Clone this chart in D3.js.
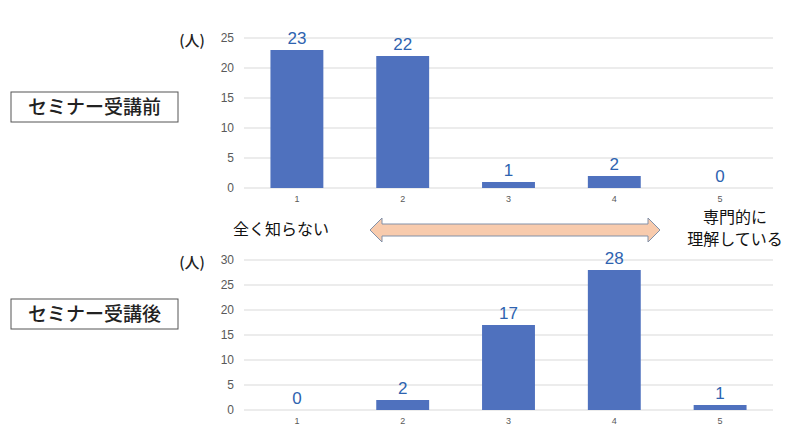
<!DOCTYPE html>
<html>
<head>
<meta charset="utf-8">
<script src="https://cdn.jsdelivr.net/npm/d3@7"></script>
<style>
  body { margin: 0; background: #fff; }
  svg { display: block; font-family: "Liberation Sans", Arial, "Noto Sans CJK JP", sans-serif; }
  .jp { font-family: "Noto Sans CJK JP", sans-serif; }
</style>
</head>
<body>
<div id="chart"></div>
<script>
// categories on the x axis (1 = know nothing ... 5 = expert)
const levels = [1, 2, 3, 4, 5];

// number of people, before and after the seminar
const beforeValues = [23, 22, 1, 2, 0];
const afterValues = [0, 2, 17, 28, 1];

// y tick labels for each panel
const beforeTicks = [0, 5, 10, 15, 20, 25];
const afterTicks = [0, 5, 10, 15, 20, 25, 30];

const panelTitles = ["セミナー受講前", "セミナー受講後"];

const width = 800, height = 439;

const svg = d3.select("#chart")
  .append("svg")
  .attr("width", width)
  .attr("height", height);

// shared x scale for both panels
const x = d3.scaleBand()
  .domain(levels)
  .range([244, 773])
  .paddingInner(0.5)
  .paddingOuter(0.25);

// draws one bar panel
function drawPanel(values, ticks, top, bottom, title, boxY) {
  const y = d3.scaleLinear()
    .domain([0, d3.max(ticks)])
    .range([bottom, top]);

  const g = svg.append("g");

  // gridlines
  g.append("g")
    .selectAll("line")
    .data(ticks)
    .join("line")
    .attr("x1", 244)
    .attr("x2", 773)
    .attr("y1", d => y(d))
    .attr("y2", d => y(d))
    .attr("stroke", "#d9d9d9")
    .attr("stroke-width", 1);

  // y axis labels
  const yAxis = g.append("g")
    .attr("transform", "translate(240,0)")
    .call(d3.axisLeft(y).tickValues(ticks).tickSize(0).tickPadding(6));
  yAxis.select(".domain").remove();
  yAxis.selectAll("text")
    .attr("font-size", 12)
    .attr("fill", "#595959")
    .attr("font-family", "Liberation Sans, Arial, sans-serif");

  // x axis labels
  const xAxis = g.append("g")
    .attr("transform", `translate(0,${bottom})`)
    .call(d3.axisBottom(x).tickSize(0).tickPadding(8));
  xAxis.select(".domain").remove();
  xAxis.selectAll("text")
    .attr("font-size", 9)
    .attr("fill", "#595959")
    .attr("font-family", "Liberation Sans, Arial, sans-serif");

  // bars
  g.selectAll(".bar")
    .data(values)
    .join("rect")
    .attr("class", "bar")
    .attr("x", (d, i) => x(levels[i]))
    .attr("y", d => y(d))
    .attr("width", x.bandwidth())
    .attr("height", d => bottom - y(d))
    .attr("fill", "#4f71be");

  // value labels
  g.selectAll(".val")
    .data(values)
    .join("text")
    .attr("class", "val")
    .attr("x", (d, i) => x(levels[i]) + x.bandwidth() / 2)
    .attr("y", d => y(d) - 6)
    .attr("text-anchor", "middle")
    .attr("font-size", 17)
    .attr("fill", "#2e63b0")
    .text(d => d);

  // unit label
  g.append("text")
    .attr("class", "jp")
    .attr("x", 192)
    .attr("y", top + 8)
    .attr("text-anchor", "middle")
    .attr("font-size", 15)
    .attr("font-weight", 500)
    .attr("fill", "#222")
    .text("(人)");

  // title box
  g.append("rect")
    .attr("x", 11)
    .attr("y", boxY)
    .attr("width", 167)
    .attr("height", 30)
    .attr("fill", "#fff")
    .attr("stroke", "#555")
    .attr("stroke-width", 1);
  g.append("text")
    .attr("class", "jp")
    .attr("x", 94.5)
    .attr("y", boxY + 15)
    .attr("dy", "0.36em")
    .attr("text-anchor", "middle")
    .attr("font-size", 19)
    .attr("font-weight", 500)
    .attr("fill", "#222")
    .text(title);
}

drawPanel(beforeValues, beforeTicks, 38, 188, panelTitles[0], 92);
drawPanel(afterValues, afterTicks, 260, 410, panelTitles[1], 299);

// double-headed arrow between the panels
const ax0 = 370, ax1 = 660, ay = 230;
const arrow = d3.path();
arrow.moveTo(ax0, ay);
arrow.lineTo(ax0 + 12, ay - 12);
arrow.lineTo(ax0 + 12, ay - 6);
arrow.lineTo(ax1 - 12, ay - 6);
arrow.lineTo(ax1 - 12, ay - 12);
arrow.lineTo(ax1, ay);
arrow.lineTo(ax1 - 12, ay + 12);
arrow.lineTo(ax1 - 12, ay + 6);
arrow.lineTo(ax0 + 12, ay + 6);
arrow.lineTo(ax0 + 12, ay + 12);
arrow.closePath();
svg.append("path")
  .attr("d", arrow.toString())
  .attr("fill", "#f8cbad")
  .attr("stroke", "#8391a8")
  .attr("stroke-width", 1);

// scale end labels
svg.append("text")
  .attr("class", "jp")
  .attr("x", 281)
  .attr("y", 229)
  .attr("dy", "0.36em")
  .attr("text-anchor", "middle")
  .attr("font-size", 16)
  .attr("fill", "#111")
  .text("全く知らない");
svg.append("text")
  .attr("class", "jp")
  .attr("x", 735)
  .attr("y", 217)
  .attr("dy", "0.36em")
  .attr("text-anchor", "middle")
  .attr("font-size", 16)
  .attr("fill", "#111")
  .text("専門的に");
svg.append("text")
  .attr("class", "jp")
  .attr("x", 735)
  .attr("y", 239)
  .attr("dy", "0.36em")
  .attr("text-anchor", "middle")
  .attr("font-size", 16)
  .attr("fill", "#111")
  .text("理解している");
</script>
</body>
</html>
